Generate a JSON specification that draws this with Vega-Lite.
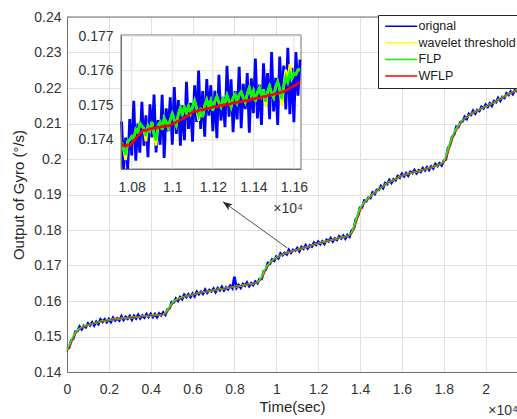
{
"$schema":"https://vega.github.io/schema/vega-lite/v6.json",
"width":450,"height":355,
"autosize":{"type":"none"},
"padding":{"left":67,"top":17,"right":0,"bottom":47},
"background":"white",
"config":{
 "view":{"stroke":null},
 "font":"Liberation Sans",
 "axis":{"labelFont":"Liberation Sans","labelFontSize":14,"labelColor":"#333333","titleFont":"Liberation Sans","titleFontSize":15,"titleFontWeight":"normal","titleColor":"#262626","domainColor":"#6e6e6e","domainWidth":1,"ticks":false,"gridColor":"#dfdfdf","gridWidth":1,"labelFlush":false,"labelOverlap":false},
 "legend":{"padding":5,"fillColor":"white","strokeColor":"#262626","symbolType":"M-2,0H14","symbolSize":16,"symbolStrokeWidth":1.5,"labelFont":"Liberation Sans","labelFontSize":12.5,"labelColor":"#1a1a1a","labelOffset":23,"rowPadding":3.6}
},
"datasets":{
"mainO":[{"t":0,"o":0.1465},{"t":100,"o":0.1468},{"t":200,"o":0.1489},{"t":300,"o":0.1494},{"t":400,"o":0.1514},{"t":500,"o":0.1515},{"t":600,"o":0.1528},{"t":700,"o":0.152},{"t":800,"o":0.153},{"t":900,"o":0.1526},{"t":1000,"o":0.1537},{"t":1100,"o":0.1531},{"t":1200,"o":0.154},{"t":1300,"o":0.1531},{"t":1400,"o":0.1542},{"t":1500,"o":0.1535},{"t":1600,"o":0.1548},{"t":1700,"o":0.1541},{"t":1800,"o":0.1548},{"t":1900,"o":0.154},{"t":2000,"o":0.1549},{"t":2100,"o":0.1541},{"t":2200,"o":0.1553},{"t":2300,"o":0.1545},{"t":2400,"o":0.1551},{"t":2500,"o":0.1545},{"t":2600,"o":0.1557},{"t":2700,"o":0.1547},{"t":2800,"o":0.1555},{"t":2900,"o":0.155},{"t":3000,"o":0.1558},{"t":3100,"o":0.1547},{"t":3200,"o":0.1558},{"t":3300,"o":0.1551},{"t":3400,"o":0.1561},{"t":3500,"o":0.1551},{"t":3600,"o":0.1559},{"t":3700,"o":0.1553},{"t":3800,"o":0.1563},{"t":3900,"o":0.1555},{"t":4000,"o":0.1564},{"t":4100,"o":0.1555},{"t":4200,"o":0.1563},{"t":4300,"o":0.1554},{"t":4400,"o":0.1565},{"t":4500,"o":0.1559},{"t":4600,"o":0.1568},{"t":4700,"o":0.1561},{"t":4800,"o":0.1576},{"t":4900,"o":0.158},{"t":5000,"o":0.1597},{"t":5100,"o":0.1596},{"t":5200,"o":0.1607},{"t":5300,"o":0.16},{"t":5400,"o":0.1611},{"t":5500,"o":0.1605},{"t":5600,"o":0.1618},{"t":5700,"o":0.1611},{"t":5800,"o":0.1619},{"t":5900,"o":0.1611},{"t":6000,"o":0.1621},{"t":6100,"o":0.1613},{"t":6200,"o":0.1626},{"t":6300,"o":0.1619},{"t":6400,"o":0.1626},{"t":6500,"o":0.162},{"t":6600,"o":0.1632},{"t":6700,"o":0.1623},{"t":6800,"o":0.1631},{"t":6900,"o":0.1627},{"t":7000,"o":0.1635},{"t":7100,"o":0.1625},{"t":7200,"o":0.1636},{"t":7300,"o":0.163},{"t":7400,"o":0.164},{"t":7500,"o":0.163},{"t":7600,"o":0.1638},{"t":7700,"o":0.1633},{"t":7800,"o":0.1643},{"t":7900,"o":0.1636},{"t":8000,"o":0.1668},{"t":8100,"o":0.1637},{"t":8200,"o":0.1645},{"t":8300,"o":0.1637},{"t":8400,"o":0.1648},{"t":8500,"o":0.1643},{"t":8600,"o":0.1652},{"t":8700,"o":0.1642},{"t":8800,"o":0.165},{"t":8900,"o":0.1645},{"t":9000,"o":0.1655},{"t":9100,"o":0.165},{"t":9200,"o":0.1662},{"t":9300,"o":0.1662},{"t":9400,"o":0.1684},{"t":9500,"o":0.1688},{"t":9600,"o":0.1707},{"t":9700,"o":0.1705},{"t":9800,"o":0.1717},{"t":9900,"o":0.1713},{"t":10000,"o":0.1725},{"t":10100,"o":0.172},{"t":10200,"o":0.1734},{"t":10300,"o":0.1729},{"t":10400,"o":0.1736},{"t":10500,"o":0.1731},{"t":10600,"o":0.1744},{"t":10700,"o":0.1736},{"t":10800,"o":0.1744},{"t":10900,"o":0.1741},{"t":11000,"o":0.1749},{"t":11100,"o":0.174},{"t":11200,"o":0.1752},{"t":11300,"o":0.1747},{"t":11400,"o":0.1757},{"t":11500,"o":0.1748},{"t":11600,"o":0.1757},{"t":11700,"o":0.1753},{"t":11800,"o":0.1764},{"t":11900,"o":0.1758},{"t":12000,"o":0.1767},{"t":12100,"o":0.176},{"t":12200,"o":0.1768},{"t":12300,"o":0.1761},{"t":12400,"o":0.1772},{"t":12500,"o":0.1768},{"t":12600,"o":0.1777},{"t":12700,"o":0.1768},{"t":12800,"o":0.1776},{"t":12900,"o":0.1772},{"t":13000,"o":0.1782},{"t":13100,"o":0.1776},{"t":13200,"o":0.1784},{"t":13300,"o":0.1776},{"t":13400,"o":0.1786},{"t":13500,"o":0.1781},{"t":13600,"o":0.1798},{"t":13700,"o":0.1804},{"t":13800,"o":0.183},{"t":13900,"o":0.184},{"t":14000,"o":0.1863},{"t":14100,"o":0.1864},{"t":14200,"o":0.1883},{"t":14300,"o":0.1881},{"t":14400,"o":0.1891},{"t":14500,"o":0.189},{"t":14600,"o":0.1906},{"t":14700,"o":0.1901},{"t":14800,"o":0.1913},{"t":14900,"o":0.1913},{"t":15000,"o":0.1924},{"t":15100,"o":0.1918},{"t":15200,"o":0.1932},{"t":15300,"o":0.1929},{"t":15400,"o":0.1941},{"t":15500,"o":0.1933},{"t":15600,"o":0.1943},{"t":15700,"o":0.194},{"t":15800,"o":0.1952},{"t":15900,"o":0.1947},{"t":16000,"o":0.1958},{"t":16100,"o":0.1951},{"t":16200,"o":0.196},{"t":16300,"o":0.1953},{"t":16400,"o":0.1964},{"t":16500,"o":0.196},{"t":16600,"o":0.1969},{"t":16700,"o":0.196},{"t":16800,"o":0.1968},{"t":16900,"o":0.1964},{"t":17000,"o":0.1974},{"t":17100,"o":0.1968},{"t":17200,"o":0.1977},{"t":17300,"o":0.1969},{"t":17400,"o":0.1979},{"t":17500,"o":0.1973},{"t":17600,"o":0.1986},{"t":17700,"o":0.198},{"t":17800,"o":0.1988},{"t":17900,"o":0.1982},{"t":18000,"o":0.1995},{"t":18100,"o":0.1999},{"t":18200,"o":0.203},{"t":18300,"o":0.204},{"t":18400,"o":0.2062},{"t":18500,"o":0.2069},{"t":18600,"o":0.2091},{"t":18700,"o":0.209},{"t":18800,"o":0.2104},{"t":18900,"o":0.2106},{"t":19000,"o":0.2119},{"t":19100,"o":0.2113},{"t":19200,"o":0.2127},{"t":19300,"o":0.2124},{"t":19400,"o":0.2136},{"t":19500,"o":0.2128},{"t":19600,"o":0.2138},{"t":19700,"o":0.2135},{"t":19800,"o":0.2147},{"t":19900,"o":0.2142},{"t":20000,"o":0.2153},{"t":20100,"o":0.2147},{"t":20200,"o":0.2157},{"t":20300,"o":0.215},{"t":20400,"o":0.2163},{"t":20500,"o":0.216},{"t":20600,"o":0.2172},{"t":20700,"o":0.2164},{"t":20800,"o":0.2175},{"t":20900,"o":0.2172},{"t":21000,"o":0.2185},{"t":21100,"o":0.218},{"t":21200,"o":0.219},{"t":21300,"o":0.2183},{"t":21400,"o":0.2195},{"t":21500,"o":0.2189}],
"mainS":[{"t":0,"w":0.146,"f":0.146,"r":0.1458},{"t":100,"w":0.1472,"f":0.1472,"r":0.1467},{"t":200,"w":0.1486,"f":0.1486,"r":0.148},{"t":300,"w":0.15,"f":0.15,"r":0.1494},{"t":400,"w":0.151,"f":0.151,"r":0.1505},{"t":500,"w":0.1517,"f":0.1517,"r":0.1514},{"t":600,"w":0.1522,"f":0.1522,"r":0.152},{"t":800,"w":0.1528,"f":0.1528,"r":0.1527},{"t":1000,"w":0.1532,"f":0.1532,"r":0.1532},{"t":1200,"w":0.1536,"f":0.1536,"r":0.1536},{"t":1400,"w":0.1539,"f":0.1539,"r":0.1539},{"t":1600,"w":0.1542,"f":0.1542,"r":0.1542},{"t":1800,"w":0.1544,"f":0.1544,"r":0.1544},{"t":2000,"w":0.1546,"f":0.1546,"r":0.1546},{"t":2200,"w":0.1548,"f":0.1548,"r":0.1548},{"t":2400,"w":0.1549,"f":0.1549,"r":0.1549},{"t":2600,"w":0.1551,"f":0.1551,"r":0.1551},{"t":2800,"w":0.1552,"f":0.1552,"r":0.1552},{"t":3000,"w":0.1553,"f":0.1553,"r":0.1553},{"t":3200,"w":0.1554,"f":0.1554,"r":0.1554},{"t":3400,"w":0.1555,"f":0.1555,"r":0.1555},{"t":3600,"w":0.1557,"f":0.1557,"r":0.1557},{"t":3800,"w":0.1558,"f":0.1558,"r":0.1558},{"t":4000,"w":0.1559,"f":0.1559,"r":0.1559},{"t":4200,"w":0.156,"f":0.156,"r":0.156},{"t":4400,"w":0.1561,"f":0.1561,"r":0.1561},{"t":4600,"w":0.1562,"f":0.1562,"r":0.1562},{"t":4700,"w":0.1566,"f":0.1566,"r":0.1564},{"t":4800,"w":0.1574,"f":0.1574,"r":0.1569},{"t":4900,"w":0.1584,"f":0.1584,"r":0.1577},{"t":5000,"w":0.1592,"f":0.1592,"r":0.1587},{"t":5100,"w":0.1599,"f":0.1599,"r":0.1595},{"t":5200,"w":0.1603,"f":0.1603,"r":0.16},{"t":5400,"w":0.1608,"f":0.1608,"r":0.1607},{"t":5600,"w":0.1612,"f":0.1612,"r":0.1612},{"t":5800,"w":0.1615,"f":0.1615,"r":0.1615},{"t":6000,"w":0.1618,"f":0.1618,"r":0.1618},{"t":6200,"w":0.1621,"f":0.1621,"r":0.1621},{"t":6400,"w":0.1624,"f":0.1624,"r":0.1624},{"t":6600,"w":0.1626,"f":0.1626,"r":0.1626},{"t":6800,"w":0.1628,"f":0.1628,"r":0.1628},{"t":7000,"w":0.163,"f":0.163,"r":0.163},{"t":7200,"w":0.1632,"f":0.1632,"r":0.1632},{"t":7400,"w":0.1634,"f":0.1634,"r":0.1634},{"t":7600,"w":0.1636,"f":0.1636,"r":0.1636},{"t":7800,"w":0.1638,"f":0.1638,"r":0.1638},{"t":8000,"w":0.164,"f":0.164,"r":0.164},{"t":8200,"w":0.1642,"f":0.1642,"r":0.1642},{"t":8400,"w":0.1644,"f":0.1644,"r":0.1644},{"t":8600,"w":0.1646,"f":0.1646,"r":0.1646},{"t":8800,"w":0.1648,"f":0.1648,"r":0.1648},{"t":9000,"w":0.165,"f":0.165,"r":0.165},{"t":9100,"w":0.1653,"f":0.1653,"r":0.1651},{"t":9200,"w":0.1658,"f":0.1658,"r":0.1655},{"t":9300,"w":0.1668,"f":0.1668,"r":0.1662},{"t":9400,"w":0.1681,"f":0.1681,"r":0.1673},{"t":9500,"w":0.1693,"f":0.1693,"r":0.1686},{"t":9600,"w":0.1701,"f":0.1701,"r":0.1696},{"t":9700,"w":0.1707,"f":0.1707,"r":0.1704},{"t":9800,"w":0.1713,"f":0.1713,"r":0.1711},{"t":9900,"w":0.1718,"f":0.1718,"r":0.1716},{"t":10000,"w":0.1722,"f":0.1722,"r":0.1722},{"t":10200,"w":0.1729,"f":0.1729,"r":0.1729},{"t":10400,"w":0.1734,"f":0.1734,"r":0.1734},{"t":10600,"w":0.1738,"f":0.1738,"r":0.1738},{"t":10800,"w":0.1741,"f":0.1741,"r":0.1741},{"t":11000,"w":0.1744,"f":0.1744,"r":0.1744},{"t":11200,"w":0.1748,"f":0.1748,"r":0.1748},{"t":11400,"w":0.1751,"f":0.1751,"r":0.1751},{"t":11600,"w":0.1755,"f":0.1755,"r":0.1755},{"t":11800,"w":0.1759,"f":0.1759,"r":0.1759},{"t":12000,"w":0.1762,"f":0.1762,"r":0.1762},{"t":12200,"w":0.1765,"f":0.1765,"r":0.1765},{"t":12400,"w":0.1768,"f":0.1768,"r":0.1768},{"t":12600,"w":0.1771,"f":0.1771,"r":0.1771},{"t":12800,"w":0.1774,"f":0.1774,"r":0.1774},{"t":13000,"w":0.1777,"f":0.1777,"r":0.1777},{"t":13200,"w":0.178,"f":0.178,"r":0.178},{"t":13400,"w":0.1783,"f":0.1783,"r":0.1783},{"t":13500,"w":0.1786,"f":0.1786,"r":0.1785},{"t":13600,"w":0.1792,"f":0.1792,"r":0.1789},{"t":13700,"w":0.1806,"f":0.1806,"r":0.1799},{"t":13800,"w":0.1826,"f":0.1826,"r":0.1815},{"t":13900,"w":0.1845,"f":0.1845,"r":0.1834},{"t":14000,"w":0.186,"f":0.186,"r":0.1851},{"t":14100,"w":0.187,"f":0.187,"r":0.1864},{"t":14200,"w":0.1878,"f":0.1878,"r":0.1874},{"t":14400,"w":0.1889,"f":0.1889,"r":0.1887},{"t":14600,"w":0.19,"f":0.19,"r":0.19},{"t":14800,"w":0.191,"f":0.191,"r":0.191},{"t":15000,"w":0.1919,"f":0.1919,"r":0.1919},{"t":15200,"w":0.1928,"f":0.1928,"r":0.1928},{"t":15400,"w":0.1935,"f":0.1935,"r":0.1935},{"t":15600,"w":0.1941,"f":0.1941,"r":0.1941},{"t":15800,"w":0.1947,"f":0.1947,"r":0.1947},{"t":16000,"w":0.1953,"f":0.1953,"r":0.1953},{"t":16200,"w":0.1957,"f":0.1957,"r":0.1957},{"t":16400,"w":0.196,"f":0.196,"r":0.196},{"t":16600,"w":0.1963,"f":0.1963,"r":0.1963},{"t":16800,"w":0.1966,"f":0.1966,"r":0.1966},{"t":17000,"w":0.1969,"f":0.1969,"r":0.1969},{"t":17200,"w":0.1973,"f":0.1973,"r":0.1973},{"t":17400,"w":0.1976,"f":0.1976,"r":0.1976},{"t":17600,"w":0.198,"f":0.198,"r":0.198},{"t":17800,"w":0.1984,"f":0.1984,"r":0.1984},{"t":17900,"w":0.1987,"f":0.1987,"r":0.1986},{"t":18000,"w":0.1992,"f":0.1992,"r":0.1989},{"t":18100,"w":0.2005,"f":0.2005,"r":0.1998},{"t":18200,"w":0.2025,"f":0.2025,"r":0.2014},{"t":18300,"w":0.2043,"f":0.2043,"r":0.2033},{"t":18400,"w":0.206,"f":0.206,"r":0.2051},{"t":18500,"w":0.2074,"f":0.2074,"r":0.2067},{"t":18600,"w":0.2085,"f":0.2085,"r":0.2079},{"t":18800,"w":0.2101,"f":0.2101,"r":0.2098},{"t":19000,"w":0.2114,"f":0.2114,"r":0.2114},{"t":19200,"w":0.2123,"f":0.2123,"r":0.2123},{"t":19400,"w":0.213,"f":0.213,"r":0.213},{"t":19600,"w":0.2136,"f":0.2136,"r":0.2136},{"t":19800,"w":0.2142,"f":0.2142,"r":0.2142},{"t":20000,"w":0.2148,"f":0.2148,"r":0.2148},{"t":20200,"w":0.2154,"f":0.2154,"r":0.2154},{"t":20400,"w":0.2159,"f":0.2159,"r":0.2159},{"t":20600,"w":0.2166,"f":0.2166,"r":0.2166},{"t":20800,"w":0.2173,"f":0.2173,"r":0.2173},{"t":21000,"w":0.218,"f":0.218,"r":0.218},{"t":21200,"w":0.2186,"f":0.2186,"r":0.2186},{"t":21400,"w":0.2192,"f":0.2192,"r":0.2192},{"t":21500,"w":0.2194,"f":0.2194,"r":0.2194}],
"inset":[{"t":10750,"o":0.17453,"w":0.17393,"f":0.17393,"r":0.17388},{"t":10760,"o":0.17299,"w":0.17374,"f":0.17374,"r":0.17384},{"t":10770,"o":0.17407,"w":0.17342,"f":0.17357,"r":0.17382},{"t":10780,"o":0.17291,"w":0.17396,"f":0.17396,"r":0.17386},{"t":10790,"o":0.1746,"w":0.174,"f":0.174,"r":0.17385},{"t":10800,"o":0.17355,"w":0.1741,"f":0.1741,"r":0.1739},{"t":10810,"o":0.17513,"w":0.17403,"f":0.17403,"r":0.17398},{"t":10820,"o":0.1734,"w":0.1743,"f":0.1743,"r":0.17405},{"t":10830,"o":0.17447,"w":0.17422,"f":0.17422,"r":0.17412},{"t":10840,"o":0.17363,"w":0.17448,"f":0.17448,"r":0.17418},{"t":10850,"o":0.1751,"w":0.1744,"f":0.1744,"r":0.17425},{"t":10860,"o":0.17383,"w":0.17433,"f":0.17433,"r":0.17428},{"t":10870,"o":0.17471,"w":0.17396,"f":0.17411,"r":0.17426},{"t":10880,"o":0.1735,"w":0.1744,"f":0.1744,"r":0.1743},{"t":10890,"o":0.17503,"w":0.17428,"f":0.17428,"r":0.17433},{"t":10900,"o":0.17407,"w":0.17452,"f":0.17452,"r":0.17432},{"t":10910,"o":0.17531,"w":0.17416,"f":0.17416,"r":0.17436},{"t":10920,"o":0.17364,"w":0.17384,"f":0.17399,"r":0.17434},{"t":10930,"o":0.17457,"w":0.17442,"f":0.17442,"r":0.17437},{"t":10940,"o":0.17386,"w":0.17451,"f":0.17451,"r":0.17436},{"t":10950,"o":0.1753,"w":0.1743,"f":0.1743,"r":0.1744},{"t":10960,"o":0.17348,"w":0.17463,"f":0.17463,"r":0.17438},{"t":10970,"o":0.17491,"w":0.17451,"f":0.17451,"r":0.17441},{"t":10980,"o":0.17425,"w":0.17435,"f":0.17435,"r":0.1744},{"t":10990,"o":0.17523,"w":0.17458,"f":0.17458,"r":0.17443},{"t":11000,"o":0.17386,"w":0.17476,"f":0.17476,"r":0.17446},{"t":11010,"o":0.17553,"w":0.17458,"f":0.17458,"r":0.17448},{"t":11020,"o":0.17417,"w":0.17442,"f":0.17442,"r":0.17452},{"t":11030,"o":0.17515,"w":0.17475,"f":0.17475,"r":0.17455},{"t":11040,"o":0.17383,"w":0.17493,"f":0.17493,"r":0.17458},{"t":11050,"o":0.175,"w":0.17475,"f":0.17475,"r":0.1746},{"t":11060,"o":0.17399,"w":0.17494,"f":0.17494,"r":0.17464},{"t":11070,"o":0.17568,"w":0.17478,"f":0.17478,"r":0.17468},{"t":11080,"o":0.17432,"w":0.17497,"f":0.17497,"r":0.17472},{"t":11090,"o":0.17507,"w":0.17477,"f":0.17477,"r":0.17477},{"t":11100,"o":0.17395,"w":0.17495,"f":0.17495,"r":0.1748},{"t":11110,"o":0.17558,"w":0.17513,"f":0.17513,"r":0.17483},{"t":11120,"o":0.17452,"w":0.17492,"f":0.17492,"r":0.17482},{"t":11130,"o":0.176,"w":0.17455,"f":0.1747,"r":0.17485},{"t":11140,"o":0.17432,"w":0.17492,"f":0.17492,"r":0.17487},{"t":11150,"o":0.17541,"w":0.17466,"f":0.17466,"r":0.17486},{"t":11160,"o":0.17409,"w":0.17499,"f":0.17499,"r":0.17489},{"t":11170,"o":0.17576,"w":0.17516,"f":0.17516,"r":0.17491},{"t":11180,"o":0.1747,"w":0.17495,"f":0.17495,"r":0.1749},{"t":11190,"o":0.17558,"w":0.17513,"f":0.17513,"r":0.17493},{"t":11200,"o":0.17425,"w":0.17485,"f":0.17485,"r":0.17495},{"t":11210,"o":0.17542,"w":0.17512,"f":0.17512,"r":0.17497},{"t":11220,"o":0.17405,"w":0.17525,"f":0.17525,"r":0.17495},{"t":11230,"o":0.17588,"w":0.17508,"f":0.17508,"r":0.17498},{"t":11240,"o":0.17456,"w":0.17496,"f":0.17496,"r":0.17501},{"t":11250,"o":0.17524,"w":0.17519,"f":0.17519,"r":0.17499},{"t":11260,"o":0.17437,"w":0.17507,"f":0.17507,"r":0.17502},{"t":11270,"o":0.17614,"w":0.17529,"f":0.17529,"r":0.17504},{"t":11280,"o":0.17467,"w":0.17512,"f":0.17512,"r":0.17502},{"t":11290,"o":0.17575,"w":0.17495,"f":0.17495,"r":0.17505},{"t":11300,"o":0.17422,"w":0.17522,"f":0.17522,"r":0.17507},{"t":11310,"o":0.17541,"w":0.17531,"f":0.17531,"r":0.17506},{"t":11320,"o":0.17459,"w":0.17509,"f":0.17509,"r":0.17509},{"t":11330,"o":0.17611,"w":0.17531,"f":0.17531,"r":0.17511},{"t":11340,"o":0.17434,"w":0.17539,"f":0.17539,"r":0.17509},{"t":11350,"o":0.17562,"w":0.17522,"f":0.17522,"r":0.17512},{"t":11360,"o":0.17489,"w":0.17509,"f":0.17509,"r":0.17514},{"t":11370,"o":0.17593,"w":0.17533,"f":0.17533,"r":0.17513},{"t":11380,"o":0.17421,"w":0.17551,"f":0.17551,"r":0.17516},{"t":11390,"o":0.17578,"w":0.17528,"f":0.17528,"r":0.17518},{"t":11400,"o":0.17477,"w":0.17542,"f":0.17542,"r":0.17517},{"t":11410,"o":0.17635,"w":0.1751,"f":0.1751,"r":0.1752},{"t":11420,"o":0.17462,"w":0.17537,"f":0.17537,"r":0.17522},{"t":11430,"o":0.1756,"w":0.1755,"f":0.1755,"r":0.1752},{"t":11440,"o":0.17443,"w":0.17528,"f":0.17528,"r":0.17523},{"t":11450,"o":0.17621,"w":0.17546,"f":0.17546,"r":0.17526},{"t":11460,"o":0.1751,"w":0.17495,"f":0.1751,"r":0.17525},{"t":11470,"o":0.17593,"w":0.17538,"f":0.17538,"r":0.17528},{"t":11480,"o":0.1746,"w":0.17555,"f":0.17555,"r":0.1753},{"t":11490,"o":0.17654,"w":0.17534,"f":0.17534,"r":0.17529},{"t":11500,"o":0.17482,"w":0.17522,"f":0.17522,"r":0.17532},{"t":11510,"o":0.17579,"w":0.17554,"f":0.17554,"r":0.17534},{"t":11520,"o":0.17443,"w":0.17568,"f":0.17568,"r":0.17533},{"t":11530,"o":0.17641,"w":0.17546,"f":0.17546,"r":0.17536},{"t":11540,"o":0.17508,"w":0.17498,"f":0.17518,"r":0.17538},{"t":11550,"o":0.17615,"w":0.17555,"f":0.17555,"r":0.1754},{"t":11560,"o":0.17488,"w":0.17603,"f":0.17583,"r":0.17543},{"t":11570,"o":0.17666,"w":0.17566,"f":0.17566,"r":0.17546},{"t":11580,"o":0.17474,"w":0.17619,"f":0.17594,"r":0.17549},{"t":11590,"o":0.17608,"w":0.17578,"f":0.17578,"r":0.17553},{"t":11600,"o":0.17451,"w":0.17591,"f":0.17591,"r":0.17556},{"t":11610,"o":0.17654,"w":0.17589,"f":0.17589,"r":0.17559},{"t":11620,"o":0.17528,"w":0.17603,"f":0.17603,"r":0.17563},{"t":11630,"o":0.17632,"w":0.17602,"f":0.17602,"r":0.17567}],
"arrow":[{"x1":10526,"y1":0.17493,"x2":7450,"y2":0.18797}],
"gx":[{"g":10800},{"g":11000},{"g":11200},{"g":11400},{"g":11600}],
"gy":[{"g":0.174},{"g":0.175},{"g":0.176},{"g":0.177}]
},
"layer":[
  {"data":{"name":"mainO"},"transform":[{"fold":["o"],"as":["series","v"]}],
   "mark":{"type":"line","strokeWidth":2.6},
   "encoding":{
    "x":{"field":"t","type":"quantitative","scale":{"domain":[0,21500],"nice":false,"zero":false},
     "axis":{"orient":"bottom","values":[0,2000,4000,6000,8000,10000,12000,14000,16000,18000,20000],"labelExpr":"'' + datum.value/10000","title":"Time(sec)","grid":true,"labelPadding":10.5,"titlePadding":2.5}},
    "y":{"field":"v","type":"quantitative","scale":{"domain":[0.14,0.24],"nice":false,"zero":false},
     "axis":{"orient":"left","values":[0.14,0.15,0.16,0.17,0.18,0.19,0.2,0.21,0.22,0.23,0.24],"format":".2~f","title":"Output of Gyro (°/s)","grid":true,"labelPadding":6,"titlePadding":7}},
    "color":{"field":"series","type":"nominal","scale":{"domain":["o","w","f","r"],"range":["#0000ff","#ffff00","#00ff00","#ff0000"]},
     "legend":{"orient":"none","legendX":311,"legendY":-2,"title":null,"labelExpr":"datum.value == 'o' ? 'orignal' : datum.value == 'w' ? 'wavelet threshold' : datum.value == 'f' ? 'FLP' : 'WFLP'"}}
   }},
  {"data":{"name":"mainS"},"transform":[{"fold":["w","f"],"as":["series","v"]}],
   "mark":{"type":"line","strokeWidth":1.7},
   "encoding":{"x":{"field":"t","type":"quantitative","scale":{"domain":[0,21500],"nice":false,"zero":false},"axis":null},"y":{"field":"v","type":"quantitative","scale":{"domain":[0.14,0.24],"nice":false,"zero":false},"axis":null},"color":{"field":"series","type":"nominal","legend":null}}},
  {"data":{"name":"mainS"},"transform":[{"fold":["r"],"as":["series","v"]}],
   "mark":{"type":"line","strokeWidth":0.9},
   "encoding":{"x":{"field":"t","type":"quantitative","scale":{"domain":[0,21500],"nice":false,"zero":false},"axis":null},"y":{"field":"v","type":"quantitative","scale":{"domain":[0.14,0.24],"nice":false,"zero":false},"axis":null},"color":{"field":"series","type":"nominal","legend":null}}},
  {"data":{"values":[{}]},"mark":{"type":"rule","color":"#6e6e6e","strokeWidth":1},
   "encoding":{"y":{"datum":0.24,"type":"quantitative","scale":{"domain":[0.14,0.24],"nice":false,"zero":false},"axis":null}}},
  {"data":{"name":"arrow"},"mark":{"type":"rule","color":"#262626","strokeWidth":0.8},
   "encoding":{"x":{"field":"x1","type":"quantitative","scale":{"domain":[0,21500],"nice":false,"zero":false},"axis":null},"y":{"field":"y1","type":"quantitative","scale":{"domain":[0.14,0.24],"nice":false,"zero":false},"axis":null},"x2":{"field":"x2"},"y2":{"field":"y2"}}},
  {"data":{"name":"arrow"},"mark":{"type":"point","shape":"M0,0L0.6,1.6L0,1.2L-0.6,1.6Z","size":144,"angle":305.8,"filled":true,"color":"#262626","opacity":1},
   "encoding":{"x":{"field":"x2","type":"quantitative","scale":{"domain":[0,21500],"nice":false,"zero":false},"axis":null},"y":{"field":"y2","type":"quantitative","scale":{"domain":[0.14,0.24],"nice":false,"zero":false},"axis":null}}},
  {"data":{"values":[{}]},"mark":{"type":"text","align":"right","baseline":"alphabetic","dx":1,"dy":43,"fontSize":14,"font":"Liberation Sans","color":"#333333"},
   "encoding":{"x":{"datum":21500,"type":"quantitative","scale":{"domain":[0,21500],"nice":false,"zero":false},"axis":null},"y":{"datum":0.14,"type":"quantitative","scale":{"domain":[0.14,0.24],"nice":false,"zero":false},"axis":null},"text":{"value":"×10⁴"}}},
  {"data":{"values":[{}]},"mark":{"type":"rect","fill":"white","stroke":"#6e6e6e","strokeWidth":1},
   "encoding":{"x":{"datum":10747,"type":"quantitative","scale":{"domain":[10747,11635],"range":[54,234],"nice":false,"zero":false},"axis":null},"x2":{"datum":11635},
    "y":{"datum":0.17316,"type":"quantitative","scale":{"domain":[0.17316,0.17703],"range":[152,18],"nice":false,"zero":false},"axis":null},"y2":{"datum":0.17703}}},
  {"data":{"name":"gx"},"mark":{"type":"rule","color":"#dfdfdf","strokeWidth":1},
   "encoding":{"x":{"field":"g","type":"quantitative","scale":{"domain":[10747,11635],"range":[54,234],"nice":false,"zero":false},"axis":null},"y":{"datum":0.17316,"type":"quantitative","scale":{"domain":[0.17316,0.17703],"range":[152,18],"nice":false,"zero":false},"axis":null},"y2":{"datum":0.17703}}},
  {"data":{"name":"gy"},"mark":{"type":"rule","color":"#dfdfdf","strokeWidth":1},
   "encoding":{"y":{"field":"g","type":"quantitative","scale":{"domain":[0.17316,0.17703],"range":[152,18],"nice":false,"zero":false},"axis":null},"x":{"datum":10747,"type":"quantitative","scale":{"domain":[10747,11635],"range":[54,234],"nice":false,"zero":false},"axis":null},"x2":{"datum":11635}}},
  {"data":{"name":"inset"},"transform":[{"fold":["o"],"as":["series","v"]}],
   "mark":{"type":"line","strokeWidth":2.8},
   "encoding":{
    "x":{"field":"t","type":"quantitative","scale":{"domain":[10747,11635],"range":[54,234],"nice":false,"zero":false},
     "axis":{"orient":"bottom","offset":-203,"values":[10800,11000,11200,11400,11600],"labelExpr":"'' + datum.value/10000","title":null,"grid":false,"zindex":1,"labelPadding":11.5}},
    "y":{"field":"v","type":"quantitative","scale":{"domain":[0.17316,0.17703],"range":[152,18],"nice":false,"zero":false,"clamp":true},
     "axis":{"orient":"left","offset":-54,"values":[0.174,0.175,0.176,0.177],"format":".3f","title":null,"grid":false,"zindex":1,"labelPadding":8}},
    "color":{"field":"series","type":"nominal","legend":null}}},
  {"data":{"name":"inset"},"transform":[{"fold":["w","f","r"],"as":["series","v"]}],
   "mark":{"type":"line","strokeWidth":2.6},
   "encoding":{"x":{"field":"t","type":"quantitative","scale":{"domain":[10747,11635],"range":[54,234],"nice":false,"zero":false},"axis":null},"y":{"field":"v","type":"quantitative","scale":{"domain":[0.17316,0.17703],"range":[152,18],"nice":false,"zero":false,"clamp":true},"axis":null},"color":{"field":"series","type":"nominal","legend":null}}},
  {"data":{"values":[{}]},"mark":{"type":"text","align":"right","baseline":"alphabetic","dx":2,"dy":44,"fontSize":14,"font":"Liberation Sans","color":"#333333"},
   "encoding":{"x":{"datum":11635,"type":"quantitative","scale":{"domain":[10747,11635],"range":[54,234],"nice":false,"zero":false},"axis":null},"y":{"datum":0.17316,"type":"quantitative","scale":{"domain":[0.17316,0.17703],"range":[152,18],"nice":false,"zero":false},"axis":null},"text":{"value":"×10⁴"}}}
],
"resolve":{"scale":{"x":"independent","y":"independent"}}
}
